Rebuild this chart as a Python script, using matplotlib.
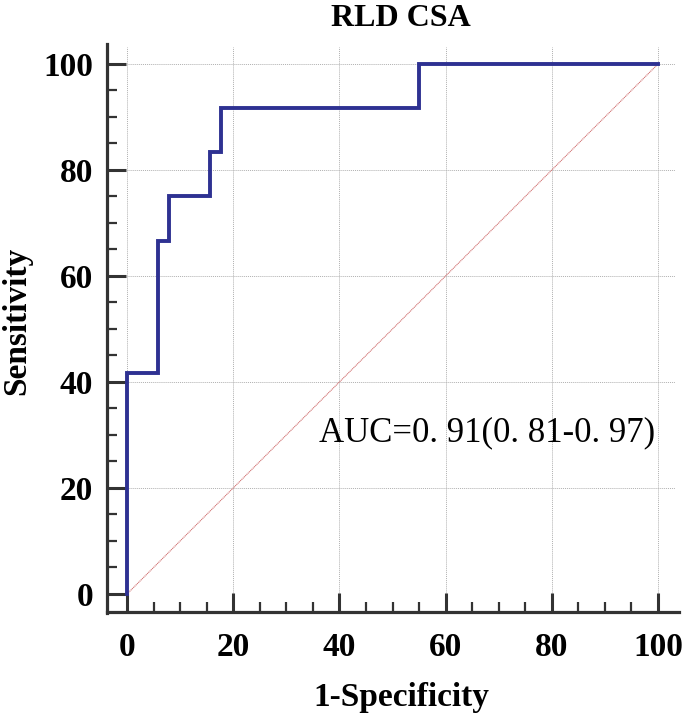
import matplotlib
matplotlib.use("Agg")
import matplotlib.pyplot as plt
from matplotlib.ticker import MultipleLocator

# ROC curve data (1-Specificity %, Sensitivity %)
fpr = [0, 0, 5.88, 5.88, 7.84, 7.84, 15.69, 15.69, 17.65, 17.65, 54.90, 54.90, 100]
tpr = [0, 41.67, 41.67, 66.67, 66.67, 75.0, 75.0, 83.33, 83.33, 91.67, 91.67, 100, 100]
diag = [0, 100]
title = "RLD CSA"
xlabel = "1-Specificity"
ylabel = "Sensitivity"
auc_text = "AUC=0. 91(0. 81-0. 97)"
ticks = [0, 20, 40, 60, 80, 100]

fig = plt.figure(figsize=(6.85, 7.14), dpi=100)
ax = fig.add_axes([127/685, 1-594/714, 548/685, 547/714])

serif = "Liberation Serif"
ax.plot(diag, diag, color="#d07070", lw=0.8, ls=(0, (1, 0.6)), zorder=2)
ax.plot(fpr, tpr, color="#2e3192", lw=2.8, zorder=3, solid_joinstyle="miter",
        clip_on=False)

ax.set_xlim(0, 103.2)
ax.set_ylim(0, 103.2)
ax.set_xticks(ticks)
ax.set_yticks(ticks)
ax.xaxis.set_minor_locator(MultipleLocator(5))
ax.yaxis.set_minor_locator(MultipleLocator(5))
ax.grid(True, which="major", color="#b0b0b0", ls=(0, (1, 1)), lw=0.7)
ax.set_axisbelow(True)

for s in ["top", "right"]:
    ax.spines[s].set_visible(False)
ax.spines["left"].set_position(("outward", 14.4))
ax.spines["bottom"].set_position(("outward", 13.0))
ax.spines["left"].set_bounds(-3.5, 103.8)
ax.spines["bottom"].set_bounds(-3.8, 104.0)
for s in ["left", "bottom"]:
    ax.spines[s].set_linewidth(2.3)
    ax.spines[s].set_color("#333333")

ax.tick_params(which="major", direction="in", length=14, width=2.2, color="#333333")
ax.tick_params(which="minor", direction="in", length=7, width=1.6, color="#333333")
ax.tick_params(axis="x", which="major", pad=14)
ax.tick_params(axis="y", which="major", pad=10)
for lab in ax.get_xticklabels() + ax.get_yticklabels():
    lab.set_fontfamily(serif)
    lab.set_fontweight("bold")
    lab.set_fontsize(24)

ax.set_title(title, fontfamily=serif, fontweight="bold", fontsize=23, pad=15)
ax.set_xlabel(xlabel, fontfamily=serif, fontweight="bold", fontsize=24, labelpad=14)
ax.set_ylabel(ylabel, fontfamily=serif, fontweight="bold", fontsize=24, labelpad=8)

ax.text(36.2, 30.5, auc_text, fontfamily=serif, fontsize=25, ha="left", va="center")

fig.savefig("out.png", dpi=100)
